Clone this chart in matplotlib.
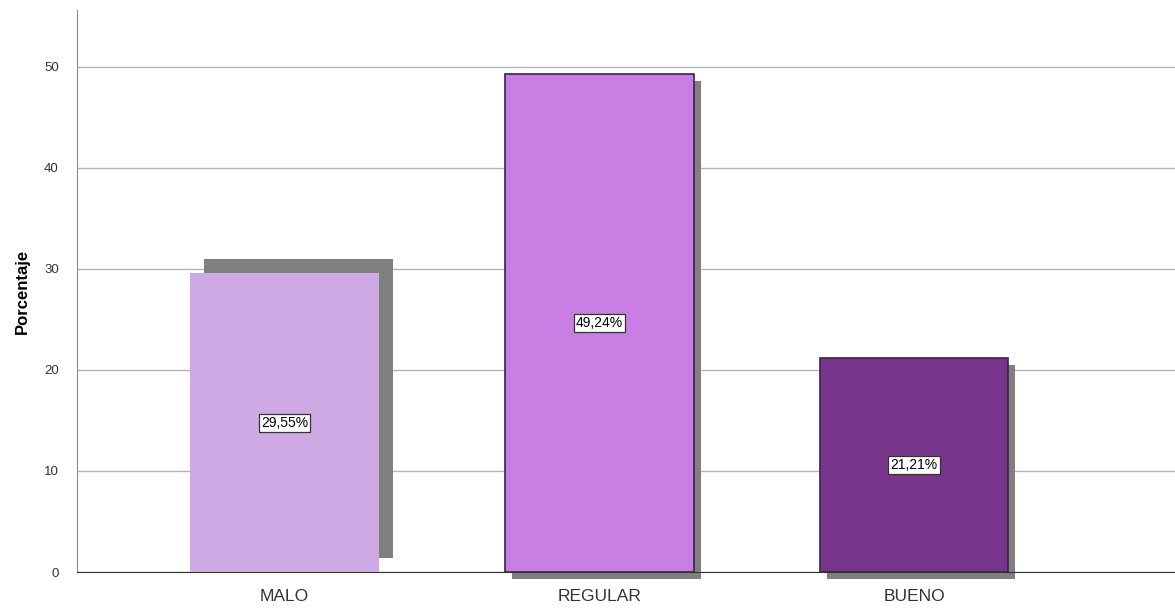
import matplotlib.pyplot as plt
import numpy as np

plt.rcParams['font.family'] = ['Liberation Sans', 'DejaVu Sans']

# data
categorias = ['MALO', 'REGULAR', 'BUENO']
porcentajes = [29.55, 49.24, 21.21]
etiquetas = ['29,55%', '49,24%', '21,21%']
colores = ['#cdaae3', '#c97ee4', '#78358c']
bordes = ['none', '#3c2244', '#3c2244']
# shadow offsets (x in category units, y in percent)
sombra_dx = [0.044, 0.022, 0.022]
sombra_dy = [1.4, -0.7, -0.7]

fig = plt.figure(figsize=(11.75, 6.08), dpi=100)
ax = fig.add_axes([0.0655, 0.0592, 0.9345, 0.9244])

x = np.arange(len(categorias))
ancho = 0.6

# shadows
for i in range(len(x)):
    ax.bar(x[i] + sombra_dx[i], porcentajes[i], width=ancho, bottom=sombra_dy[i],
           color='#808080', zorder=2, clip_on=False)

# bars
for i in range(len(x)):
    ax.bar(x[i], porcentajes[i], width=ancho, color=colores[i],
           edgecolor=bordes[i], linewidth=1.2, zorder=3)
    ax.text(x[i], porcentajes[i] / 2, etiquetas[i], ha='center', va='center',
            fontsize=10, color='black', zorder=4,
            bbox=dict(boxstyle='square,pad=0.15', fc='white', ec='#333333', lw=0.9))

ax.set_xlim(-0.659, 2.829)
ax.set_ylim(0, 55.6)
ax.set_yticks([0, 10, 20, 30, 40, 50])
ax.set_xticks(x)
ax.set_xticklabels(categorias, fontsize=12.5, color='#333333')
ax.tick_params(axis='y', length=0, pad=13, labelsize=9.5, labelcolor='#333333')
ax.tick_params(axis='x', length=0, pad=12)
ax.set_ylabel('Porcentaje', fontsize=12, fontweight='bold', labelpad=10)

ax.yaxis.grid(True, color='#b4b4b4', linewidth=1)
ax.set_axisbelow(True)
for s in ['top', 'right']:
    ax.spines[s].set_visible(False)
ax.spines['left'].set_color('#8c8c8c')
ax.spines['bottom'].set_color('#333333')

plt.savefig('out.png', dpi=100)
